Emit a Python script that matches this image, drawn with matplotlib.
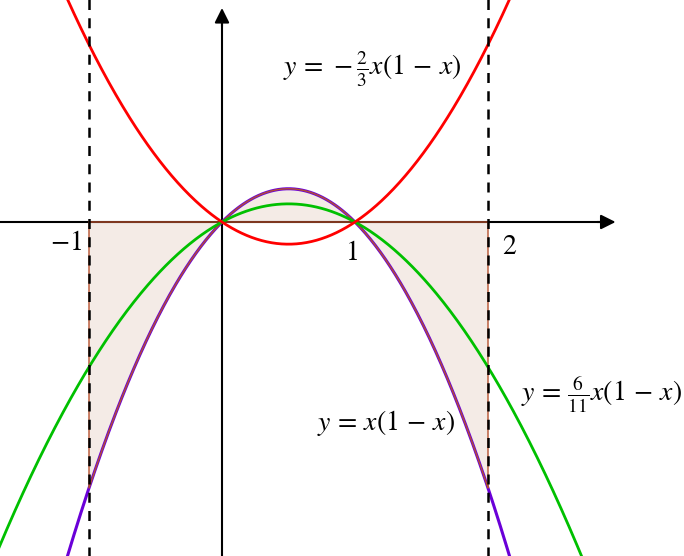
import matplotlib.pyplot as plt
import numpy as np

plt.rcParams['mathtext.fontset'] = 'stix'
plt.rcParams['font.family'] = 'STIXGeneral'

# curve coefficients: y = k * x * (1 - x)
coef_main = 1.0
coef_green = 6 / 11
coef_red = -2 / 3
x_left, x_right = -1, 2
tick_vals = [-1, 1, 2]
tick_labels = [r'$-1$', r'$1$', r'$2$']

fig = plt.figure(figsize=(6.84, 5.56), dpi=100)
ax = fig.add_axes([0, 0, 1, 1])
ax.set_xlim(-222 / 133, 462 / 133)
ax.set_ylim(-334 / 133, 222 / 133)
ax.axis('off')

xs = np.linspace(-2, 4, 800)
f = lambda k, x: k * x * (1 - x)

# shaded region between y=0 and the main curve on [-1, 2]
xf = np.linspace(x_left, x_right, 400)
ax.fill_between(xf, f(coef_main, xf), 0, facecolor='#f4ebe6', edgecolor='none', zorder=1)

# axes with arrows
ax.plot([-2, 2.9], [0, 0], color='black', lw=1.5, zorder=2)
ax.annotate('', xy=(2.98, 0), xytext=(2.8, 0),
            arrowprops=dict(arrowstyle='-|>', color='black', lw=1.5, mutation_scale=22), zorder=2)
ax.plot([0, 0], [-3, 1.5], color='black', lw=1.5, zorder=2)
ax.annotate('', xy=(0, 1.63), xytext=(0, 1.45),
            arrowprops=dict(arrowstyle='-|>', color='black', lw=1.5, mutation_scale=22), zorder=2)

# main curve
ax.plot(xs, f(coef_main, xs), color='#6a00d8', lw=2.2, zorder=3)

# border of the shaded region
bx = np.concatenate([[x_left], xf, [x_right], [x_left]])
by = np.concatenate([[0], f(coef_main, xf), [0], [0]])
ax.plot(bx, by, color='#b5502e', lw=1.0, zorder=4)

ax.plot(xs, f(coef_green, xs), color='#00c000', lw=2.0, zorder=5)
ax.plot(xs, f(coef_red, xs), color='#ff0000', lw=2.0, zorder=6)

# dashed verticals
for xv in [x_left, x_right]:
    ax.plot([xv, xv], [-3, 2], color='black', lw=1.8, ls=(0, (4, 3.3)), zorder=7)

# tick labels
ax.text(-1.17, -0.07, tick_labels[0], fontsize=20, ha='center', va='top')
ax.text(0.97, -0.14, tick_labels[1], fontsize=20, ha='center', va='top')
ax.text(2.16, -0.1, tick_labels[2], fontsize=20, ha='center', va='top')

# curve labels
ax.text(1.13, 1.15, r'$y\,=\,-\frac{2}{3}x(1\,-\,x)$', fontsize=20, ha='center', va='center')
ax.text(1.23, -1.51, r'$y\,=\,x(1\,-\,x)$', fontsize=20, ha='center', va='center')
ax.text(2.25, -1.3, r'$y\,=\,\frac{6}{11}x(1\,-\,x)$', fontsize=20, ha='left', va='center')

fig.savefig('out.png', dpi=100)
